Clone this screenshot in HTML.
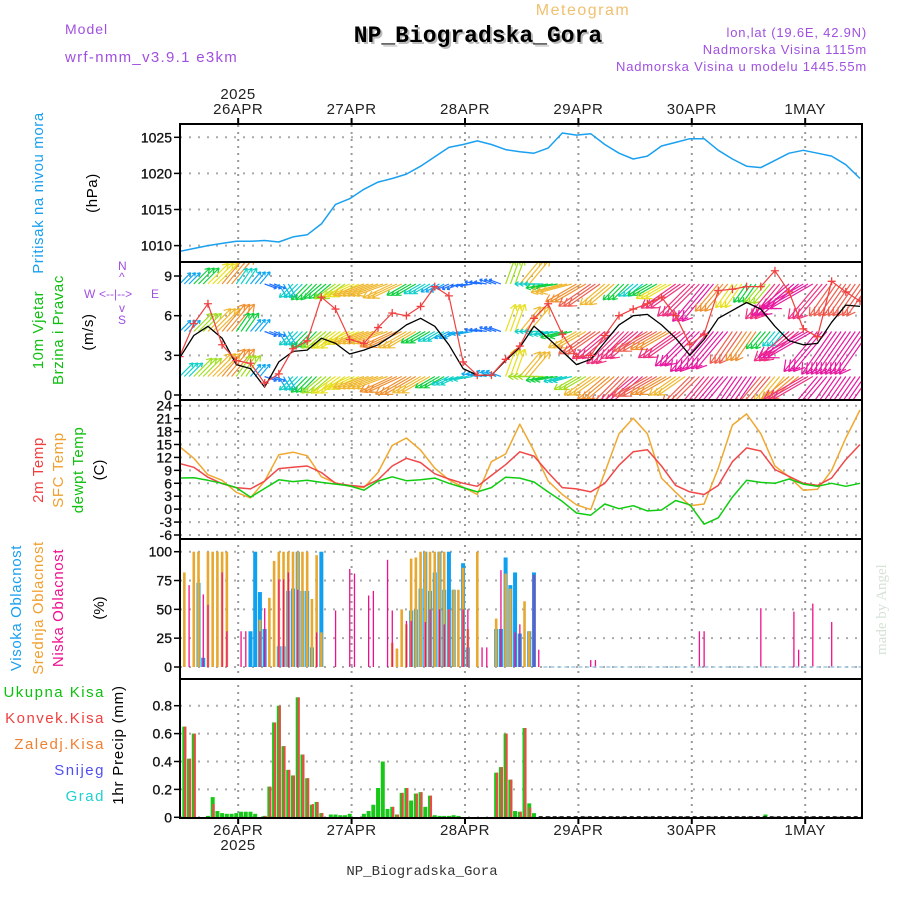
<!DOCTYPE html>
<html><head><meta charset="utf-8"><title>Meteogram NP_Biogradska_Gora</title>
<style>
html,body{margin:0;padding:0;background:#fff;}
svg{display:block;font-family:"Liberation Sans",sans-serif;}
</style></head>
<body>
<svg id="chart" width="900" height="900" viewBox="0 0 900 900" xmlns="http://www.w3.org/2000/svg">
<defs>
<clipPath id="cp1"><rect x="181" y="125" width="680" height="136"/></clipPath>
<clipPath id="cp2"><rect x="181" y="263" width="680" height="136"/></clipPath>
<clipPath id="cp3"><rect x="181" y="401" width="680" height="137"/></clipPath>
</defs>
<text x="65" y="34" font-size="14" fill="#a050e0" letter-spacing="1">Model</text>
<text x="65" y="62" font-size="15" fill="#a050e0" letter-spacing="1.3">wrf-nmm_v3.9.1 e3km</text>
<text x="583" y="15" font-size="16" fill="#f0c070" text-anchor="middle" letter-spacing="1.5">Meteogram</text>
<text x="480" y="44" font-size="23" font-weight="bold" fill="#bbb" text-anchor="middle" font-family="Liberation Mono,monospace">NP_Biogradska_Gora</text>
<text x="478" y="42" font-size="23" font-weight="bold" fill="#000" text-anchor="middle" font-family="Liberation Mono,monospace">NP_Biogradska_Gora</text>
<text x="867" y="37" font-size="13" fill="#a050e0" text-anchor="end" letter-spacing="0.8">lon,lat (19.6E, 42.9N)</text>
<text x="867" y="54" font-size="13" fill="#a050e0" text-anchor="end" letter-spacing="0.8">Nadmorska Visina 1115m</text>
<text x="867" y="71" font-size="13" fill="#a050e0" text-anchor="end" letter-spacing="0.8">Nadmorska Visina u modelu 1445.55m</text>
<text x="238" y="99" font-size="15" text-anchor="middle" fill="#222" letter-spacing="0.5">2025</text>
<text x="238" y="850" font-size="15" text-anchor="middle" fill="#222" letter-spacing="0.5">2025</text>
<text x="422" y="875" font-size="14" text-anchor="middle" fill="#333" font-family="Liberation Mono,monospace">NP_Biogradska_Gora</text>
<text transform="translate(886,655) rotate(-90)" font-size="15" fill="#d6e2d6" font-family="Liberation Serif,serif">made by Angel</text>
<text transform="translate(43,193) rotate(-90)" font-size="15" fill="#1aa0f0" text-anchor="middle" letter-spacing="0.6">Pritisak na nivou mora</text>
<text transform="translate(97,193) rotate(-90)" font-size="15" fill="#000" text-anchor="middle" letter-spacing="0.6">(hPa)</text>
<text transform="translate(43,330) rotate(-90)" font-size="15" fill="#10c010" text-anchor="middle" letter-spacing="0.6">10m Vjetar</text>
<text transform="translate(63,330) rotate(-90)" font-size="15" fill="#10c010" text-anchor="middle" letter-spacing="0.6">Brzina i Pravac</text>
<text transform="translate(93,332) rotate(-90)" font-size="15" fill="#000" text-anchor="middle" letter-spacing="0.6">(m/s)</text>
<g fill="#a050e0" font-size="12">
<text x="118" y="270">N</text><text x="119" y="281">^</text>
<text x="84" y="298">W</text><text x="99" y="298">&lt;--|--&gt;</text><text x="151" y="298">E</text>
<text x="119" y="312">v</text><text x="118" y="324">S</text>
</g>
<text transform="translate(43,470) rotate(-90)" font-size="15" fill="#f04040" text-anchor="middle" letter-spacing="0.6">2m Temp</text>
<text transform="translate(63,470) rotate(-90)" font-size="15" fill="#f0a030" text-anchor="middle" letter-spacing="0.6">SFC Temp</text>
<text transform="translate(83,470) rotate(-90)" font-size="15" fill="#10c010" text-anchor="middle" letter-spacing="0.6">dewpt Temp</text>
<text transform="translate(104,470) rotate(-90)" font-size="15" fill="#000" text-anchor="middle">(C)</text>
<text transform="translate(21,608) rotate(-90)" font-size="15" fill="#1aa0f0" text-anchor="middle" letter-spacing="0.6">Visoka Oblacnost</text>
<text transform="translate(43,608) rotate(-90)" font-size="15" fill="#f0a030" text-anchor="middle" letter-spacing="0.6">Srednja Oblacnost</text>
<text transform="translate(63,608) rotate(-90)" font-size="15" fill="#f01090" text-anchor="middle" letter-spacing="0.6">Niska Oblacnost</text>
<text transform="translate(104,608) rotate(-90)" font-size="15" fill="#000" text-anchor="middle">(%)</text>
<text x="105" y="697" font-size="15" fill="#10c010" text-anchor="end" letter-spacing="1.5">Ukupna Kisa</text>
<text x="105" y="723" font-size="15" fill="#f04040" text-anchor="end" letter-spacing="1.5">Konvek.Kisa</text>
<text x="105" y="749" font-size="15" fill="#f08030" text-anchor="end" letter-spacing="1.5">Zaledj.Kisa</text>
<text x="105" y="775" font-size="15" fill="#5050f0" text-anchor="end" letter-spacing="1.5">Snijeg</text>
<text x="105" y="801" font-size="15" fill="#20d0d0" text-anchor="end" letter-spacing="1.5">Grad</text>
<text transform="translate(123,745) rotate(-90)" font-size="15" fill="#000" text-anchor="middle" letter-spacing="0.8">1hr Precip (mm)</text>
<g id="grid"></g><g id="marks"></g><g id="frames"></g>
</svg>
<script>
// ---- data (series sampled every 3 hours from 25APR 12Z) ----
const dayLabels = ["26APR","27APR","28APR","29APR","30APR","1MAY"];
const pressure = [1009.2,1009.6,1010.0,1010.3,1010.6,1010.6,1010.7,1010.5,1011.2,1011.5,1013.0,1015.7,1016.5,1017.8,1018.8,1019.3,1019.9,1021.0,1022.3,1023.6,1024.0,1024.5,1024.0,1023.3,1023.0,1022.8,1023.5,1025.6,1025.3,1025.5,1024.0,1022.8,1022.0,1022.4,1023.8,1024.3,1024.8,1024.8,1023.2,1022.0,1021.0,1020.8,1021.8,1022.8,1023.2,1022.8,1022.4,1021.2,1019.3];
const windSpeed10m = [2.8,4.5,5.2,4.3,2.3,2.0,0.6,2.5,3.3,3.4,4.3,3.9,3.1,3.4,3.8,4.5,5.3,5.8,5.2,3.8,2.0,1.5,1.5,2.6,3.6,5.2,4.3,3.3,2.3,2.7,4.0,5.3,6.0,6.1,5.3,4.3,3.0,4.2,5.8,6.4,7.0,6.5,5.2,4.1,3.8,3.9,5.5,6.8,6.7];
const windGust = [2.9,5.4,6.9,3.8,2.6,2.4,0.9,1.6,3.5,4.1,7.4,6.5,4.2,3.9,5.1,6.2,6.0,6.7,8.2,7.5,2.5,1.5,1.5,2.7,3.7,5.8,6.9,4.6,2.9,3.0,4.5,6.0,6.5,6.9,7.4,6.0,3.8,4.6,7.9,8.0,8.2,8.2,9.4,7.8,5.0,4.4,8.6,7.8,7.1];
const windDir = [225,225,225,220,215,220,290,330,45,45,50,55,65,70,70,65,60,60,60,65,80,100,110,200,220,90,80,75,60,55,50,45,50,60,60,55,45,40,40,35,35,40,40,50,60,40,35,35,35];
const windRowLow = [4,6,8,9,6,3,2,3,4,5,6,7,7,8,8,9,9,8,5,4,4,3,3,7,8,6,5,4,6,8,9,10,11,10,9,8,10,12,13,14,13,10,8,9,12,13,14,14,14];
const windRowMid = [3,6,8,9,5,3,2,3,4,5,6,7,7,8,8,9,8,5,4,3,3,2,2,7,8,4,4,5,8,10,11,12,11,10,9,12,13,14,13,10,9,5,4,12,14,14,14,14,14];
const windRowHigh = [3,5,7,9,4,3,2,3,4,5,5,6,7,8,8,8,5,4,3,2,2,2,2,6,8,4,5,8,9,10,8,5,4,5,7,11,12,13,9,7,5,6,12,13,13,12,10,10,10];
const windRowLevels = [1.4,4.8,8.4];
const temp2m = [10.6,9.7,7.4,5.9,5.0,4.7,6.5,9.4,9.7,10.0,8.5,6.0,5.5,5.2,6.8,10.0,11.8,10.8,8.2,7.0,6.0,5.3,7.8,10.3,13.3,12.3,8.5,5.0,4.7,4.0,6.0,10.2,13.3,13.8,10.0,5.5,4.0,3.4,5.5,11.0,14.2,13.5,9.2,7.6,6.0,5.5,7.2,11.5,15.0];
const tempSfc = [14.5,11.8,8.0,6.7,3.9,2.6,6.5,12.6,13.2,12.4,7.5,6.1,5.3,5.0,8.5,14.8,16.5,13.7,9.5,6.8,5.1,3.4,11.0,12.8,19.7,13.5,6.5,3.4,1.0,-0.1,8.5,17.5,21.1,17.5,7.2,3.9,0.8,1.2,9.5,19.5,22.1,17.5,10.0,7.5,4.4,4.6,9.0,16.5,23.0];
const tempDew = [7.2,7.3,6.7,6.0,5.0,2.8,4.8,6.8,6.4,6.7,6.2,5.8,5.4,4.4,6.5,7.5,6.6,6.8,7.2,6.0,5.0,4.0,5.0,7.4,7.2,6.3,4.0,1.8,-0.9,-1.4,1.2,0.1,0.8,-0.4,-0.2,2.0,1.0,-3.5,-2.0,2.8,6.7,6.2,6.0,7.0,5.8,5.3,6.0,5.3,6.0];
// cloud cover, hourly (hour index from 25APR 12Z)
const cloudHours = [1,2,3,4,5,6,7,8,9,10,13,14,15,16,17,18,19,20,21,22,23,24,25,26,27,28,29,30,33,36,37,40,41,44,45,46,47,48,49,50,51,52,53,54,55,56,57,58,59,60,61,63,64,65,67,68,69,70,71,72,73,74,75,76,87,88,110,111,123,130,131,134,138];
const cloudHigh = [0,0,0,73,8,0,0,0,0,0,0,0,31,100,65,33,0,0,18,18,66,68,100,66,66,17,0,100,0,0,0,0,0,0,0,0,0,0,49,50,68,100,66,82,100,67,100,67,0,90,17,0,0,0,33,33,95,71,82,29,0,31,82,0,0,0,0,0,0,0,0,0,0];
const cloudMid = [82,0,100,100,0,100,100,100,100,100,0,0,0,0,41,0,60,92,100,100,100,100,100,100,100,59,97,30,0,0,0,0,0,0,21,16,50,37,94,95,100,100,100,100,100,100,50,67,67,86,33,100,0,0,42,0,81,68,0,0,57,31,0,0,0,0,0,0,0,0,0,0,0];
const cloudLow = [0,71,0,0,63,54,0,0,82,31,31,31,0,0,31,51,0,0,76,76,82,0,67,0,0,0,30,0,49,85,81,62,66,93,49,0,0,40,40,0,0,39,50,0,50,37,50,0,0,50,50,0,17,17,0,84,0,0,30,37,0,0,80,15,6,6,31,31,51,48,15,55,39];
// precipitation, hourly (mm)
const precipHours = [1,2,3,6,7,8,9,10,11,12,13,14,15,16,18,19,20,21,22,23,24,25,26,27,28,29,30,32,33,34,35,36,39,40,41,42,43,44,45,46,47,48,49,50,51,52,53,54,55,56,57,58,59,67,68,69,70,71,72,73,74,75,124];
const precipTotal = [0.65,0.42,0.60,0.01,0.145,0.045,0.03,0.025,0.025,0.03,0.04,0.04,0.04,0.025,0.01,0.22,0.68,0.80,0.51,0.34,0.30,0.86,0.45,0.28,0.09,0.11,0.03,0.02,0.02,0.015,0.015,0.025,0.025,0.045,0.09,0.21,0.40,0.06,0.075,0.02,0.175,0.21,0.12,0.17,0.18,0.075,0.155,0.015,0.01,0.01,0.01,0.015,0.01,0.32,0.36,0.60,0.27,0.045,0.04,0.64,0.10,0.03,0.02];
const precipConv = [0.65,0.42,0.60,0,0.095,0,0,0,0,0,0,0,0,0,0.01,0.22,0.68,0.80,0.51,0.34,0.30,0.86,0.45,0.28,0.095,0.11,0.03,0,0,0,0,0,0,0,0,0,0,0,0.075,0.02,0.175,0.21,0,0.17,0.18,0,0.155,0,0,0,0,0,0,0.32,0.36,0.60,0.27,0,0.04,0.64,0.07,0,0];
const pressureTicks = [1010,1015,1020,1025];
const windTicks = [0,3,6,9];
const tempTicks = [-6,-3,0,3,6,9,12,15,18,21,24];
const cloudTicks = [0,25,50,75,100];
const precipTicks = [0,0.2,0.4,0.6,0.8];
const precipTickLabels = ["0","0.2","0.4","0.6","0.8"];

// ---- axes ----
const X0 = 180, X1 = 862, DAY0 = 12.4;
const xh = h => 179.6 + 4.725 * h;
const stepH = i => i * 3;
const yP = p => 137.3 + (1025 - p) * 7.22;
const yW = v => 395 - v * 13.22;
const yT = t => 535 - (t + 6) * 4.31;
const yC = c => 667 - c * 1.153;
const yR = r => 817.3 - r * 139.5;
const NS = "http://www.w3.org/2000/svg";
const grid = document.getElementById('grid');
const marks = document.getElementById('marks');
const frames = document.getElementById('frames');
function mk(tag, parent, attrs) {
  const e = document.createElementNS(NS, tag);
  for (const k in attrs) e.setAttribute(k, attrs[k]);
  parent.appendChild(e);
  return e;
}
function speedColor(s) {
  if (s < 2) return '#8010e0';
  if (s < 3) return '#2070ff';
  if (s < 4) return '#10a8f0';
  if (s < 5) return '#10d0c8';
  if (s < 6) return '#10d040';
  if (s < 7) return '#a0e020';
  if (s < 8) return '#e8e020';
  if (s < 9) return '#f0b830';
  if (s < 10) return '#f09030';
  if (s < 11) return '#f06050';
  if (s < 13) return '#f03080';
  return '#e818a0';
}
dayLabels.forEach((lab, i) => {
  const x = xh(DAY0 + 24 * i);
  const g = mk('line', grid, {x1: x, x2: x, y1: 125, y2: 817, stroke: '#999', 'stroke-width': 2, 'stroke-dasharray': '2,5'});
  
  
  const t1 = mk('text', grid, {x: x, y: 114, 'font-size': 15, 'text-anchor': 'middle', fill: '#222', 'letter-spacing': 0.5});
  t1.textContent = lab;
  
  
  const t2 = mk('text', grid, {x: x, y: 835, 'font-size': 15, 'text-anchor': 'middle', fill: '#222', 'letter-spacing': 0.5});
  t2.textContent = lab;
  
  
  const tk1 = mk('line', frames, {x1: x, x2: x, y1: 118, y2: 124, stroke: '#000', 'stroke-width': 2});
  
  
  const tk2 = mk('line', frames, {x1: x, x2: x, y1: 818, y2: 824, stroke: '#000', 'stroke-width': 2});
  
  
});
function hGrid(ticks, yf, labels, name) {
  ticks.forEach((v, i) => {
    const y = yf(v);
    const l = mk('line', grid, {x1: X0, x2: X1, y1: y, y2: y, stroke: '#aaa', 'stroke-width': 2, 'stroke-dasharray': '2,7'});
    
    
    const tk = mk('line', frames, {x1: 174, x2: 180, y1: y, y2: y, stroke: '#000', 'stroke-width': 1.5});
    
    
    const t = mk('text', frames, {x: 172, y: y + 5, 'font-size': 14, 'text-anchor': 'end', fill: '#111', stroke: '#111', 'stroke-width': 0.3});
    t.textContent = labels ? labels[i] : String(v);
    
    
  });
}
hGrid(pressureTicks, yP, null, 'pressure');
hGrid(windTicks, yW, null, 'wind');
hGrid(tempTicks, yT, null, 'temp');
hGrid(cloudTicks, yC, null, 'cloud');
hGrid(precipTicks, yR, precipTickLabels, 'precip');

function polyline(vals, yf, color, width, clip, name) {
  const pts = vals.map((v, i) => xh(stepH(i)).toFixed(1) + ',' + yf(v).toFixed(1)).join(' ');
  const p = mk('polyline', marks, {points: pts, fill: 'none', stroke: color, 'stroke-width': width, 'clip-path': 'url(#' + clip + ')', 'stroke-linejoin': 'round'});
  
  
  return p;
}
polyline(pressure, yP, '#1aa0f0', 1.5, 'cp1', 'pressure-line');
const windRows = [windRowLow, windRowMid, windRowHigh];
windRows.forEach((row, r) => {
  const base = yW(windRowLevels[r]);
  row.forEach((s, i) => {
    const d = windDir[i] * Math.PI / 180;
    const L = 6 + s * 3.3;
    const dx = -Math.sin(d) * L, dy = Math.cos(d) * L;
    const col = speedColor(s);
    for (let j = 0; j < 3; j++) {
      const x = xh(stepH(i) + j);
      const ex = x + dx, ey = base + dy;
      const a = mk('path', marks, {
        d: 'M' + x.toFixed(1) + ',' + base.toFixed(1) + 'L' + ex.toFixed(1) + ',' + ey.toFixed(1) +
           'M' + ex.toFixed(1) + ',' + ey.toFixed(1) + 'l' + (-dx * 0.2 - dy * 0.12).toFixed(1) + ',' + (-dy * 0.2 + dx * 0.12).toFixed(1) +
           'M' + ex.toFixed(1) + ',' + ey.toFixed(1) + 'l' + (-dx * 0.2 + dy * 0.12).toFixed(1) + ',' + (-dy * 0.2 - dx * 0.12).toFixed(1),
        stroke: col, 'stroke-width': 1.2, fill: 'none', 'clip-path': 'url(#cp2)'});
      
      
    }
  });
});
polyline(windSpeed10m, yW, '#000', 1.3, 'cp2', 'wind-speed-line');
polyline(windGust, yW, '#f04040', 1.2, 'cp2', 'wind-gust-line');
windGust.forEach((v, i) => {
  const x = xh(stepH(i)), y = yW(v);
  const m = mk('path', marks, {d: 'M' + (x - 4) + ',' + y + 'h8M' + x + ',' + (y - 4) + 'v8', stroke: '#f04040', 'stroke-width': 1.3, 'clip-path': 'url(#cp2)'});
  
  
});
polyline(tempSfc, yT, '#f0a830', 1.5, 'cp3', 'sfc-temp-line');
polyline(temp2m, yT, '#f04848', 1.5, 'cp3', 'temp-2m-line');
polyline(tempDew, yT, '#10cc10', 1.5, 'cp3', 'dewpoint-line');
cloudHours.forEach((h, i) => {
  const x = xh(h);
  if (cloudHigh[i] > 0) {
    const b = mk('rect', marks, {x: x - 2, y: yC(cloudHigh[i]), width: 4, height: yC(0) - yC(cloudHigh[i]), fill: '#10a0f0'});
    
    
  }
  if (cloudMid[i] > 0) {
    const b = mk('rect', marks, {x: x - 1.3, y: yC(cloudMid[i]), width: 2.6, height: yC(0) - yC(cloudMid[i]), fill: '#e8a830'});
    
    
  }
  if (cloudLow[i] > 0) {
    const b = mk('rect', marks, {x: x - 0.6, y: yC(cloudLow[i]), width: 1.3, height: yC(0) - yC(cloudLow[i]), fill: '#f0108a'});
    
    
  }
});
const cz = mk('line', marks, {x1: xh(77), x2: X1, y1: yC(0), y2: yC(0), stroke: '#a0c8e0', 'stroke-width': 1.5, 'stroke-dasharray': '4,3'});


precipHours.forEach((h, i) => {
  const x = xh(h);
  const g = mk('rect', marks, {x: x - 2, y: yR(precipTotal[i]), width: 4, height: yR(0) - yR(precipTotal[i]), fill: '#18c818'});
  
  
  if (precipConv[i] > 0) {
    const c = mk('rect', marks, {x: x - 0.2, y: yR(precipConv[i]), width: 2.2, height: yR(0) - yR(precipConv[i]), fill: '#f04848'});
    
    
  }
});
const pz = mk('line', marks, {x1: xh(76), x2: X1, y1: 817, y2: 817, stroke: '#000', 'stroke-width': 1.5, 'stroke-dasharray': '4,3'});


const fr = mk('rect', frames, {x: X0, y: 124, width: X1 - X0, height: 694, fill: 'none', stroke: '#000', 'stroke-width': 2});


[262, 400, 539, 679].forEach(y => {
  const s = mk('line', frames, {x1: X0, x2: X1, y1: y, y2: y, stroke: '#000', 'stroke-width': 2});
  
  
});
</script>
</body></html>
